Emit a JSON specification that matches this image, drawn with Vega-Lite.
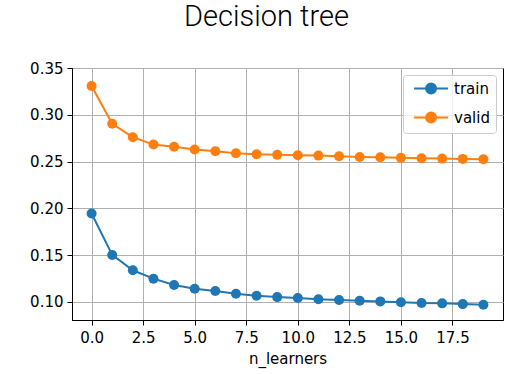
{
  "$schema": "https://vega.github.io/schema/vega-lite/v6.json",
  "width": 431,
  "height": 252,
  "autosize": {"type": "none"},
  "padding": {"left": 72, "top": 68, "right": 24, "bottom": 54},
  "background": "white",
  "config": {
    "view": {"stroke": "black", "strokeWidth": 1},
    "font": "DejaVu Sans",
    "axis": {
      "grid": true,
      "gridColor": "#b0b0b0",
      "gridWidth": 1,
      "domainColor": "black",
      "tickColor": "black",
      "tickSize": 5,
      "labelFont": "DejaVu Sans",
      "labelFontSize": 15,
      "labelColor": "black",
      "labelPadding": 4,
      "titleFont": "DejaVu Sans",
      "titleFontSize": 15,
      "titleFontWeight": "normal",
      "titleColor": "black"
    }
  },
  "title": {
    "text": "Decision tree",
    "font": "Roboto",
    "fontWeight": 300,
    "fontSize": 29,
    "color": "black",
    "anchor": "middle",
    "frame": "group",
    "dx": -21,
    "offset": 29
  },
  "data": {
    "values": [
      {"n": 0, "set": "train", "value": 0.1944},
      {"n": 1, "set": "train", "value": 0.1501},
      {"n": 2, "set": "train", "value": 0.1337},
      {"n": 3, "set": "train", "value": 0.1247},
      {"n": 4, "set": "train", "value": 0.1179},
      {"n": 5, "set": "train", "value": 0.1139},
      {"n": 6, "set": "train", "value": 0.1115},
      {"n": 7, "set": "train", "value": 0.1086},
      {"n": 8, "set": "train", "value": 0.1064},
      {"n": 9, "set": "train", "value": 0.1050},
      {"n": 10, "set": "train", "value": 0.1040},
      {"n": 11, "set": "train", "value": 0.1026},
      {"n": 12, "set": "train", "value": 0.1018},
      {"n": 13, "set": "train", "value": 0.1011},
      {"n": 14, "set": "train", "value": 0.1004},
      {"n": 15, "set": "train", "value": 0.0994},
      {"n": 16, "set": "train", "value": 0.0986},
      {"n": 17, "set": "train", "value": 0.0983},
      {"n": 18, "set": "train", "value": 0.0975},
      {"n": 19, "set": "train", "value": 0.0968},
      {"n": 0, "set": "valid", "value": 0.3307},
      {"n": 1, "set": "valid", "value": 0.2903},
      {"n": 2, "set": "valid", "value": 0.2760},
      {"n": 3, "set": "valid", "value": 0.2681},
      {"n": 4, "set": "valid", "value": 0.2657},
      {"n": 5, "set": "valid", "value": 0.2628},
      {"n": 6, "set": "valid", "value": 0.2610},
      {"n": 7, "set": "valid", "value": 0.2588},
      {"n": 8, "set": "valid", "value": 0.2577},
      {"n": 9, "set": "valid", "value": 0.2571},
      {"n": 10, "set": "valid", "value": 0.2567},
      {"n": 11, "set": "valid", "value": 0.2563},
      {"n": 12, "set": "valid", "value": 0.2556},
      {"n": 13, "set": "valid", "value": 0.2549},
      {"n": 14, "set": "valid", "value": 0.2545},
      {"n": 15, "set": "valid", "value": 0.2539},
      {"n": 16, "set": "valid", "value": 0.2534},
      {"n": 17, "set": "valid", "value": 0.2531},
      {"n": 18, "set": "valid", "value": 0.2528},
      {"n": 19, "set": "valid", "value": 0.2524}
    ]
  },
  "encoding": {
    "x": {
      "field": "n",
      "type": "quantitative",
      "title": "n_learners",
      "scale": {"domain": [-0.95, 19.95], "nice": false, "zero": false},
      "axis": {"values": [0, 2.5, 5, 7.5, 10, 12.5, 15, 17.5], "format": ".1f", "labelPadding": 5, "titlePadding": 6}
    },
    "y": {
      "field": "value",
      "type": "quantitative",
      "title": null,
      "scale": {"domain": [0.0805, 0.35], "nice": false, "zero": false},
      "axis": {"values": [0.1, 0.15, 0.2, 0.25, 0.3, 0.35], "format": ".2f"}
    },
    "color": {
      "field": "set",
      "type": "nominal",
      "scale": {"domain": ["train", "valid"], "range": ["#1f77b4", "#ff7f0e"]},
      "legend": {
        "title": null,
        "orient": "top-right",
        "offset": 7,
        "padding": 6,
        "strokeColor": "#cccccc",
        "fillColor": "rgba(255,255,255,0.8)",
        "cornerRadius": 3,
        "labelFont": "DejaVu Sans",
        "labelFontSize": 15,
        "labelColor": "black",
        "labelOffset": 30,
        "rowPadding": 10,
        "symbolType": "M-0.4,0L5.27,0M1.6,0A0.83,0.83 0 1,1 3.26,0A0.83,0.83 0 1,1 1.6,0Z",
        "symbolSize": 144,
        "symbolStrokeWidth": 2,
        "symbolOpacity": 1,
        "encode": {
          "symbols": {
            "update": {
              "fill": {"scale": "color", "field": "value"},
              "stroke": {"scale": "color", "field": "value"},
              "strokeWidth": {"value": 2},
              "opacity": {"value": 1}
            }
          }
        }
      }
    }
  },
  "layer": [
    {"mark": {"type": "line", "strokeWidth": 2}},
    {"mark": {"type": "point", "filled": true, "size": 100, "opacity": 1}}
  ]
}
